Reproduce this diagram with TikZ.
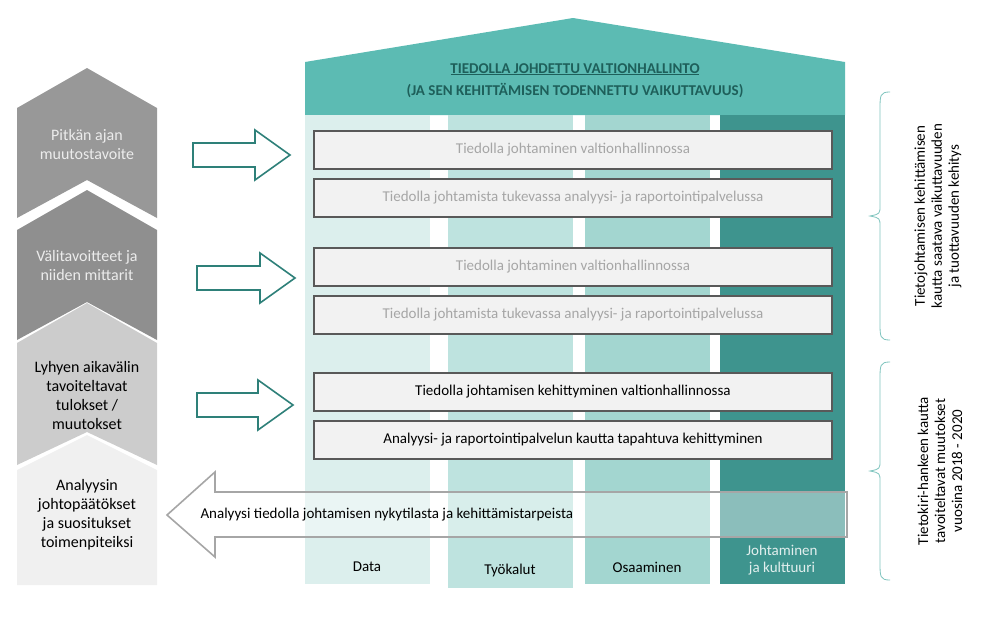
\documentclass[tikz,border=0pt]{standalone}
\usepackage{fontspec}
\setmainfont{Carlito}
\definecolor{roof}{HTML}{5CBBB3}
\definecolor{coldata}{HTML}{DCEFED}
\definecolor{coltyo}{HTML}{BEE3DF}
\definecolor{colosa}{HTML}{A3D6D0}
\definecolor{coljoh}{HTML}{3E948E}
\definecolor{headtxt}{HTML}{1E5F5A}
\definecolor{boxline}{HTML}{595959}
\definecolor{palegray}{HTML}{A6A6A6}
\definecolor{arrteal}{HTML}{2E8079}
\definecolor{bracecol}{HTML}{7FC4BE}
\tikzset{
  levelbox/.style={draw=boxline, line width=1.5pt, fill=gray!10, minimum width=518pt, minimum height=38pt, inner sep=0pt, font=\fontsize{15}{18}\selectfont},
  collabel/.style={font=\fontsize{15}{17}\selectfont, align=center},
  steplabel/.style={font=\fontsize{16}{19}\selectfont, align=center},
  sidetext/.style={rotate=90, font=\fontsize{15}{17}\selectfont, align=center}
}
\begin{document}
\begin{tikzpicture}[x=1pt, y=-1pt]
  \useasboundingbox (0,0) rectangle (990,616);
  % chevrons on the left
  \fill[gray!85!black!70] (17,108) -- (87,68) -- (157,108) -- (157,218) -- (87,180) -- (17,218) -- cycle;
  \fill[gray!88] (17,230) -- (87,190) -- (157,230) -- (157,340) -- (87,302) -- (17,340) -- cycle;
  \fill[gray!40] (17,343) -- (87,303) -- (157,343) -- (157,465) -- (87,432) -- (17,465) -- cycle;
  \fill[gray!12] (17,470) -- (87,435) -- (157,470) -- (157,585) -- (17,585) -- cycle;
  \node[steplabel, text=gray!15] (pitka) at (87,145) {Pitkän ajan\\muutostavoite};
  \node[steplabel, text=gray!15] (vali) at (87,265) {Välitavoitteet ja\\niiden mittarit};
  \node[steplabel] (lyhyt) at (87,395) {Lyhyen aikavälin\\tavoiteltavat\\tulokset /\\muutokset};
  \node[steplabel] (analyysin) at (87,515) {Analyysin\\johtopäätökset\\ja suositukset\\toimenpiteiksi};

  % house
  \fill[roof] (305,62) -- (573,18) -- (845,62) -- (845,115) -- (305,115) -- cycle;
  \fill[coldata] (305,115) rectangle (430,584);
  \fill[coltyo] (448,115) rectangle (573,588);
  \fill[colosa] (585,115) rectangle (710,584);
  \fill[coljoh] (720,115) rectangle (845,584);
  \node[font=\bfseries\fontsize{15}{18}\selectfont, text=headtxt] (otsikko) at (575,69)
    {TIEDOLLA JOHDETTU VALTIONHALLINTO};
  \draw[headtxt, line width=0.8pt] (otsikko.south west) ++(4,-3) -- ([xshift=-4pt, yshift=3pt]otsikko.south east);
  \node[font=\bfseries\fontsize{15}{18}\selectfont, text=headtxt] (otsikko2) at (575,91)
    {(JA SEN KEHITTÄMISEN TODENNETTU VAIKUTTAVUUS)};

  \node[levelbox, text=palegray] (b1) at (573,150) {Tiedolla johtaminen valtionhallinnossa};
  \node[levelbox, text=palegray] (b2) at (573,198) {Tiedolla johtamista tukevassa analyysi- ja raportointipalvelussa};
  \node[levelbox, text=palegray] (b3) at (573,267) {Tiedolla johtaminen valtionhallinnossa};
  \node[levelbox, text=palegray] (b4) at (573,315) {Tiedolla johtamista tukevassa analyysi- ja raportointipalvelussa};
  \node[levelbox] (b5) at (573,392) {Tiedolla johtamisen kehittyminen valtionhallinnossa};
  \node[levelbox] (b6) at (573,440) {Analyysi- ja raportointipalvelun kautta tapahtuva kehittyminen};

  % block arrows to the right
  \foreach \ay/\ax/\bx in {155/193/290, 278/197/295, 405/197/293} {
    \draw[arrteal, line width=1.6pt, fill=white]
      (\ax,\ay-12) -- (\bx-35,\ay-12) -- (\bx-35,\ay-25) -- (\bx,\ay) -- (\bx-35,\ay+25)
      -- (\bx-35,\ay+12) -- (\ax,\ay+12) -- cycle;
  }
  % back arrow
  \draw[gray!70, line width=1.6pt, fill=white, fill opacity=0.4]
    (847,492) -- (215,492) -- (215,472) -- (167,515) -- (215,557) -- (215,537) -- (847,537) -- cycle;
  \node[anchor=west, font=\fontsize{15}{18}\selectfont] (nykytila) at (197,515)
    {Analyysi tiedolla johtamisen nykytilasta ja kehittämistarpeista};

  \node[collabel] (data) at (367,567) {Data};
  \node[collabel] (tyo) at (510,570) {Työkalut};
  \node[collabel] (osa) at (647,567) {Osaaminen};
  \node[collabel, text=white!85!coljoh] (joh) at (782,560) {Johtaminen\\ja kulttuuri};

  % braces on the right
  \draw[bracecol, line width=0.8pt] (890,92) .. controls (880,92) and (880,95) .. (880,110)
    -- (880,205) .. controls (880,214) .. (870,216) .. controls (880,218) .. (880,227)
    -- (880,322) .. controls (880,337) and (880,340) .. (890,340);
  \draw[bracecol, line width=0.8pt] (890,362) .. controls (880,362) and (880,365) .. (880,380)
    -- (880,460) .. controls (880,469) .. (870,471) .. controls (880,473) .. (880,482)
    -- (880,562) .. controls (880,577) and (880,580) .. (890,580);
  \node[sidetext] (vaikutus) at (938,216) {Tietojohtamisen kehittämisen\\kautta saatava vaikuttavuuden\\ja tuottavuuden kehitys};
  \node[sidetext] (muutokset) at (940,471) {Tietokiri-hankeen kautta\\tavoiteltavat muutokset\\vuosina 2018 - 2020};
\end{tikzpicture}
\end{document}
